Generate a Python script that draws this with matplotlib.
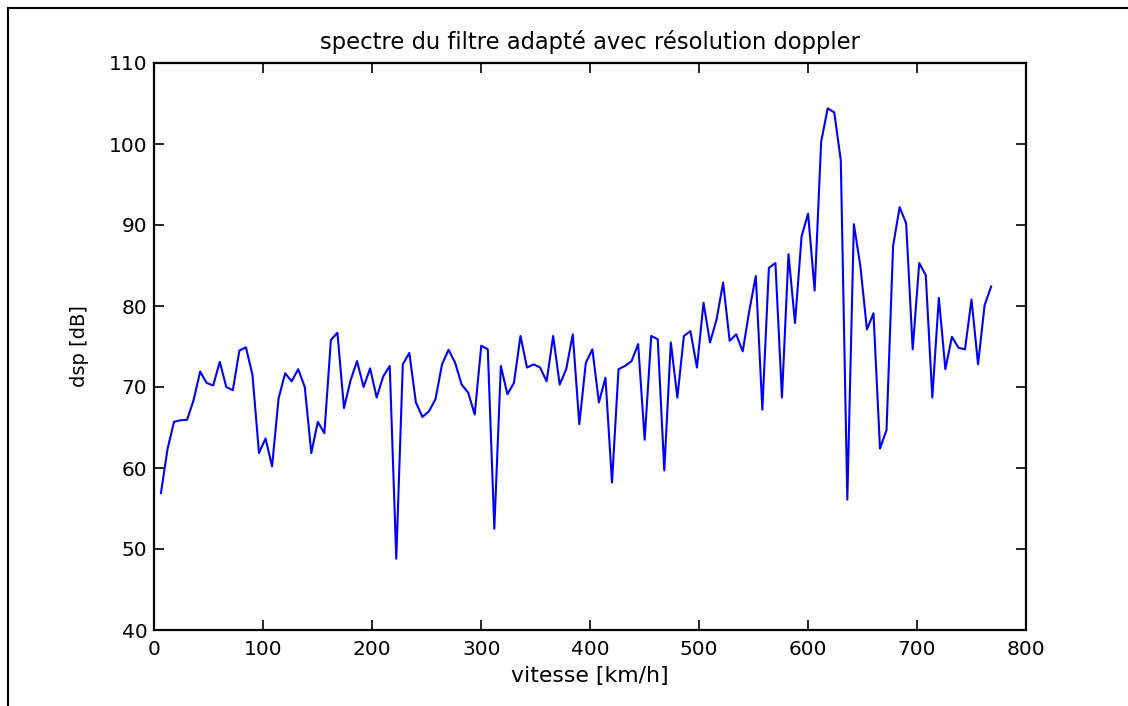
import numpy as np
import matplotlib
matplotlib.use("Agg")
import matplotlib.pyplot as plt
from matplotlib.lines import Line2D

# spectrum values (dB), one every 6 km/h starting at 6 km/h
dsp_db = [
    56.9, 62.3, 65.7, 65.9, 65.95, 68.4, 71.9, 70.5, 70.2, 73.1,
    70.0, 69.6, 74.5, 74.9, 71.5, 61.85, 63.65, 60.2, 68.6, 71.7,
    70.7, 72.2, 70.0, 61.85, 65.7, 64.3, 75.8, 76.7, 67.4, 70.8,
    73.2, 70.0, 72.3, 68.7, 71.3, 72.6, 48.8, 72.8, 74.2, 68.1,
    66.3, 67.0, 68.5, 72.8, 74.6, 73.0, 70.3, 69.3, 66.6, 75.1,
    74.65, 52.5, 72.6, 69.1, 70.5, 76.3, 72.4, 72.8, 72.4, 70.7,
    76.3, 70.3, 72.2, 76.5, 65.4, 73.0, 74.65, 68.1, 71.15, 58.2,
    72.2, 72.6, 73.2, 75.3, 63.5, 76.3, 75.9, 59.7, 75.5, 68.7,
    76.3, 76.9, 72.4, 80.4, 75.5, 78.35, 82.9, 75.7, 76.5, 74.4,
    79.4, 83.7, 67.2, 84.7, 85.3, 68.7, 86.4, 77.9, 88.6, 91.4,
    81.9, 100.3, 104.4, 103.9, 98.0, 56.1, 90.1, 84.9, 77.1, 79.1,
    62.4, 64.7, 87.4, 92.2, 90.2, 74.65, 85.3, 83.8, 68.7, 81.0,
    72.2, 76.2, 74.85, 74.65, 80.8, 72.8, 80.1, 82.4,
]
step_kmh = 6
vitesse = step_kmh * np.arange(1, len(dsp_db) + 1)

x_ticks = [0, 100, 200, 300, 400, 500, 600, 700, 800]
y_ticks = [40, 50, 60, 70, 80, 90, 100, 110]

title = "spectre du filtre adapté avec résolution doppler"
xlabel = "vitesse [km/h]"
ylabel = "dsp [dB]"

plt.rcParams['font.family'] = ['DejaVu Sans']

W, H = 1128, 706
fig = plt.figure(figsize=(W / 100, H / 100), dpi=100)
ax = fig.add_axes([154.4 / W, 1 - 630 / H, (1026 - 154.4) / W, (630 - 63) / H])

ax.plot(vitesse, dsp_db, color='#0000ff', linewidth=1.5)
ax.set_xlim(0, 800)
ax.set_ylim(40, 110)
ax.set_xticks(x_ticks)
ax.set_yticks(y_ticks)
ax.tick_params(direction='in', length=7, width=1.2, top=True, right=True,
               labelsize=14.5, colors='black')
ax.tick_params(axis='y', pad=5)
ax.tick_params(axis='x', pad=7)
for s in ax.spines.values():
    s.set_linewidth(1.6)

ax.set_title(title, fontsize=16.3, pad=10)
ax.set_xlabel(xlabel, fontsize=15.8, labelpad=5)
ax.set_ylabel(ylabel, fontsize=14, labelpad=14)

# outer figure frame (only top and left visible within the image)
fig.add_artist(Line2D([8 / W, 8 / W], [0, 1 - 8 / H], transform=fig.transFigure,
                      color='black', linewidth=1.5))
fig.add_artist(Line2D([8 / W, 1], [1 - 8 / H, 1 - 8 / H], transform=fig.transFigure,
                      color='black', linewidth=1.5))

fig.savefig("out.png", dpi=100)
